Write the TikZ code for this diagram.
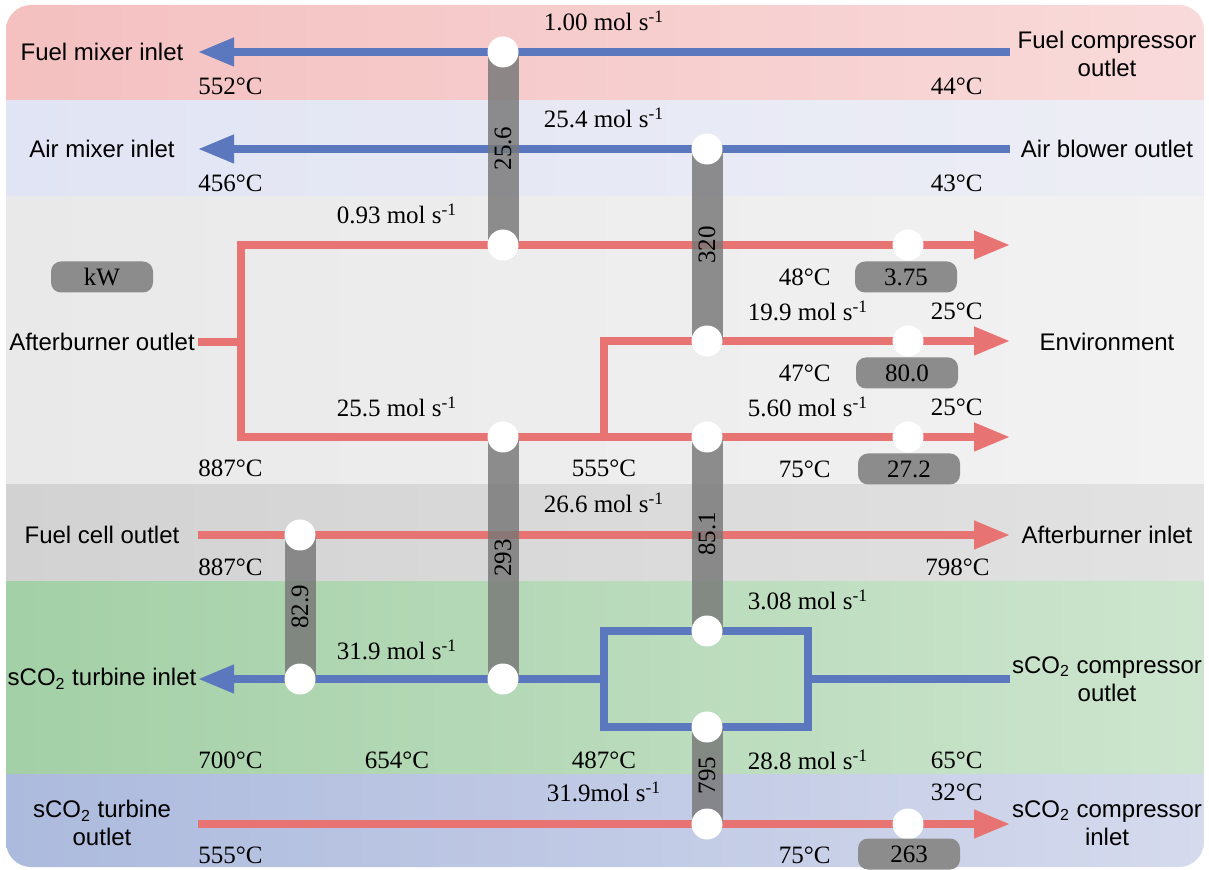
\documentclass[tikz,border=0pt]{standalone}
\usepackage{fontspec}
\setmainfont{Liberation Serif}
\setsansfont{Liberation Sans}
\usetikzlibrary{arrows.meta}

\definecolor{hotred}{HTML}{E87373}
\definecolor{coldblue}{HTML}{5B78BE}
\definecolor{hxgray}{HTML}{777777}
\definecolor{boxgray}{HTML}{8C8C8C}

\newcommand{\lblfont}{\sffamily\fontsize{12}{14}\selectfont}
\newcommand{\numfont}{\fontsize{12.5}{14}\selectfont}
\newcommand{\molflow}[1]{#1 mol s\textsuperscript{-1}}

\tikzset{
  hot/.style={draw=hotred, line width=3.7pt},
  cold/.style={draw=coldblue, line width=3.7pt},
  arr/.style={-{Triangle[length=18pt,width=13.5pt]}},
  hx/.style={draw=hxgray, draw opacity=0.82, line width=15.5pt},
  port/.style={circle, fill=white, minimum size=15.5pt, inner sep=0pt},
  duty/.style={fill=boxgray, rounded corners=5pt, minimum width=51pt, minimum height=15.5pt, inner sep=0pt, font=\numfont},
  lbl/.style={font=\lblfont, align=center},
  num/.style={font=\numfont, inner sep=0pt},
}

\begin{document}
\begin{tikzpicture}[x=0.5pt, y=-0.5pt]
    \useasboundingbox (0,0) rectangle (1209,870);

    % Bands
    \begin{scope}
        \clip[rounded corners=12.5pt] (6,5) rectangle (1204,867);
        \shade[left color={rgb,255:red,244;green,192;blue,192}, right color={rgb,255:red,249;green,218;blue,218}] (6,5) rectangle (1204,101);
        \shade[left color={rgb,255:red,225;green,228;blue,244}, right color={rgb,255:red,237;green,238;blue,245}] (6,101) rectangle (1204,197);
        \shade[left color={rgb,255:red,233;green,233;blue,233}, right color={rgb,255:red,242;green,242;blue,242}] (6,197) rectangle (1204,485);
        \shade[left color={rgb,255:red,210;green,210;blue,210}, right color={rgb,255:red,226;green,226;blue,226}] (6,485) rectangle (1204,582);
        \shade[left color={rgb,255:red,163;green,208;blue,166}, right color={rgb,255:red,205;green,229;blue,206}] (6,582) rectangle (1204,774);
        \shade[left color={rgb,255:red,172;green,186;blue,221}, right color={rgb,255:red,213;green,218;blue,237}] (6,774) rectangle (1204,867);
    \end{scope}

    % Stream end points
    \coordinate (fuelcomp) at (1010,52);
    \coordinate (fuelmix) at (198,52);
    \coordinate (airblow) at (1010,149);
    \coordinate (airmix) at (198,149);
    \coordinate (about) at (198,342);
    \coordinate (absplit) at (241,342);
    \coordinate (envtop) at (1010,245);
    \coordinate (envmid) at (1010,341);
    \coordinate (envbot) at (1010,437);
    \coordinate (midsplit) at (604,437);
    \coordinate (fcout) at (198,535);
    \coordinate (abin) at (1010,535);
    \coordinate (compout) at (1010,679);
    \coordinate (loopR) at (808,679);
    \coordinate (loopL) at (604,679);
    \coordinate (loopTL) at (604,631);
    \coordinate (loopBR) at (808,727);
    \coordinate (turbin) at (198,679);
    \coordinate (turbout) at (198,824);
    \coordinate (compin) at (1010,824);

    % Ports
    \coordinate (p1) at (503,52);
    \coordinate (p2) at (503,245);
    \coordinate (p3) at (707,149);
    \coordinate (p4) at (707,341);
    \coordinate (p5) at (503,437);
    \coordinate (p6) at (707,437);
    \coordinate (p7) at (300,535);
    \coordinate (p8) at (300,679);
    \coordinate (p9) at (503,679);
    \coordinate (p10) at (707,631);
    \coordinate (p11) at (707,727);
    \coordinate (p12) at (707,824);
    \coordinate (q1) at (908,245);
    \coordinate (q2) at (908,341);
    \coordinate (q3) at (908,437);
    \coordinate (q4) at (908,824);

    % Cold streams
    \draw[cold, arr] (fuelcomp) -- (fuelmix);
    \draw[cold, arr] (airblow) -- (airmix);
    \draw[cold] (compout) -- (loopR);
    \draw[cold] (loopTL) rectangle (loopBR);
    \draw[cold, arr] (loopL) -- (turbin);

    % Hot streams
    \draw[hot] (about) -- (absplit);
    \draw[hot, arr] (absplit) |- (envtop);
    \draw[hot, arr] (absplit) |- (envbot);
    \draw[hot, arr] (midsplit) |- (envmid);
    \draw[hot, arr] (fcout) -- (abin);
    \draw[hot, arr] (turbout) -- (compin);

    % Heat exchangers
    \draw[hx] (p1) -- (p2) node[midway, num, rotate=90] {25.6};
    \draw[hx] (p3) -- (p4) node[midway, num, rotate=90] {320};
    \draw[hx] (p5) -- (p9) node[midway, num, rotate=90] {293};
    \draw[hx] (p6) -- (p10) node[midway, num, rotate=90] {85.1};
    \draw[hx] (p7) -- (p8) node[midway, num, rotate=90] {82.9};
    \draw[hx] (p11) -- (p12) node[midway, num, rotate=90] {795};

    \foreach \p in {p1,p2,p3,p4,p5,p6,p7,p8,p9,p10,p11,p12,q1,q2,q3,q4}
        \node[port] (c\p) at (\p) {};

    % Duties
    \node[duty] (dkw) at (102,277) {kW};
    \node[duty] (d1) at (906,277) {3.75};
    \node[duty] (d2) at (907,373) {80.0};
    \node[duty] (d3) at (909,469) {27.2};
    \node[duty] (d4) at (909,854) {263};

    % Stream names
    \node[lbl] (nfuelmix) at (102,52) {Fuel mixer inlet};
    \node[lbl] (nairmix) at (102,149) {Air mixer inlet};
    \node[lbl] (nabout) at (102,342) {Afterburner outlet};
    \node[lbl] (nfcout) at (102,535) {Fuel cell outlet};
    \node[lbl] (nturbin) at (102,679) {sCO\textsubscript{2} turbine inlet};
    \node[lbl] (nturbout) at (102,823) {sCO\textsubscript{2} turbine\\outlet};
    \node[lbl] (nfuelcomp) at (1107,54) {Fuel compressor\\outlet};
    \node[lbl] (nairblow) at (1107,149) {Air blower outlet};
    \node[lbl] (nenv) at (1107,342) {Environment};
    \node[lbl] (nabin) at (1107,535) {Afterburner inlet};
    \node[lbl] (ncompout) at (1107,679) {sCO\textsubscript{2} compressor\\outlet};
    \node[lbl] (ncompin) at (1107,823) {sCO\textsubscript{2} compressor\\inlet};

    % Flow rates
    \node[num] (f1) at (604,21) {\molflow{1.00}};
    \node[num] (f2) at (604,118) {\molflow{25.4}};
    \node[num] (f3) at (397,214) {\molflow{0.93}};
    \node[num] (f4) at (808,311) {\molflow{19.9}};
    \node[num] (f5) at (397,407) {\molflow{25.5}};
    \node[num] (f6) at (808,407) {\molflow{5.60}};
    \node[num] (f7) at (604,503) {\molflow{26.6}};
    \node[num] (f8) at (808,600) {\molflow{3.08}};
    \node[num] (f9) at (397,650) {\molflow{31.9}};
    \node[num] (f10) at (808,760) {\molflow{28.8}};
    \node[num] (f11) at (604,792) {31.9mol s\textsuperscript{-1}};

    % Temperatures
    \node[num, anchor=west] (t1) at (198,86) {552°C};
    \node[num, anchor=east] (t2) at (983,86) {44°C};
    \node[num, anchor=west] (t3) at (198,183) {456°C};
    \node[num, anchor=east] (t4) at (983,183) {43°C};
    \node[num, anchor=east] (t5) at (831,277) {48°C};
    \node[num, anchor=east] (t6) at (983,311) {25°C};
    \node[num, anchor=east] (t7) at (831,373) {47°C};
    \node[num, anchor=east] (t8) at (983,407) {25°C};
    \node[num, anchor=west] (t9) at (198,468) {887°C};
    \node[num] (t10) at (604,468) {555°C};
    \node[num, anchor=east] (t11) at (831,469) {75°C};
    \node[num, anchor=west] (t12) at (198,567) {887°C};
    \node[num, anchor=east] (t13) at (990,567) {798°C};
    \node[num, anchor=west] (t14) at (198,760) {700°C};
    \node[num] (t15) at (397,760) {654°C};
    \node[num] (t16) at (604,760) {487°C};
    \node[num, anchor=east] (t17) at (983,760) {65°C};
    \node[num, anchor=east] (t18) at (983,792) {32°C};
    \node[num, anchor=west] (t19) at (198,855) {555°C};
    \node[num, anchor=east] (t20) at (831,855) {75°C};
\end{tikzpicture}
\end{document}
